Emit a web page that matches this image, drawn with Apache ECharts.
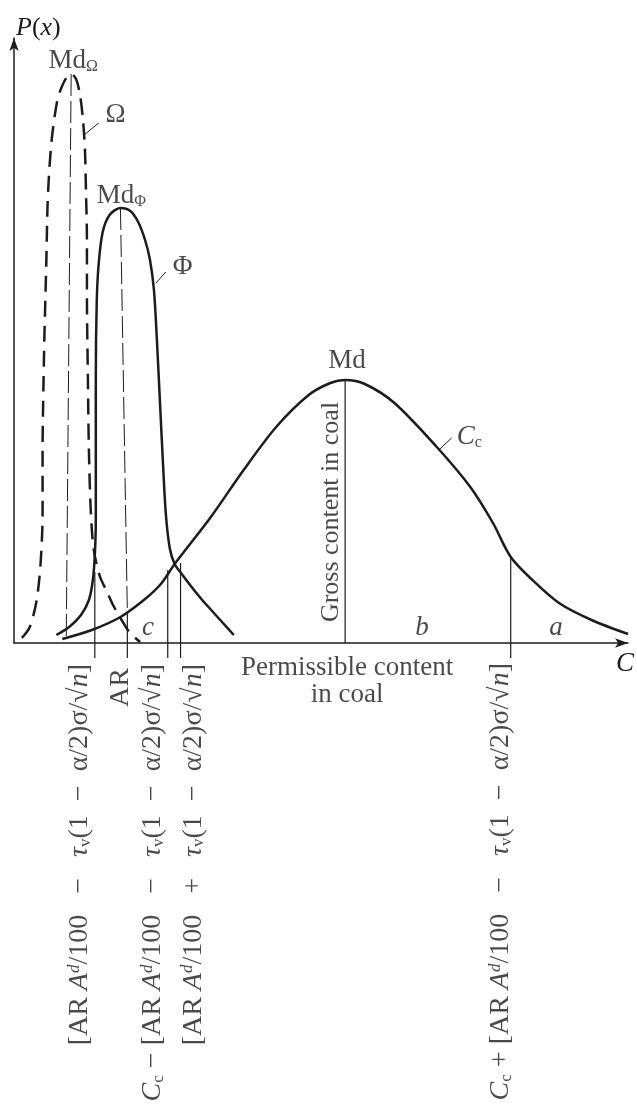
<!DOCTYPE html>
<html>
<head>
<meta charset="utf-8">
<script src="https://cdn.jsdelivr.net/npm/echarts@6/dist/echarts.min.js"></script>
<style>
  html, body { margin: 0; padding: 0; background: #fff; }
  #chart { width: 637px; height: 1111px; }
</style>
</head>
<body>
<div id="chart"></div>
<script>
// curves (x, P(x)) in plot units
const omegaCurve = [[8,5],[16,16],[23,43],[27,80],[29,130],[29,193],[30,263],[31,313],[32,350],[33,390],[34,436],[36,476],[39,510],[44,543],[48,555],[53,565],[58,569],[63,564],[67,548],[70,523],[72,493],[73,453],[74,403],[74,350],[75,263],[76,193],[78,130],[81,93],[87,67],[94,52],[101,37],[108,25],[117,11],[128,1]];
const phiCurve = [[43,8],[56,16],[68,28],[76,43],[80,63],[82,88],[83,123],[83,193],[83,263],[84,343],[86,380],[90,411],[97,428],[108,435],[118,432],[126,421],[133,403],[138,383],[142,353],[145,303],[148,243],[151,183],[154,130],[158,95],[163,79],[171,68],[181,55],[191,43],[201,32],[212,20],[223,8]];
const ccCurve = [[49,4],[79,13],[108,26],[133,44],[149,59],[163,79],[199,125],[233,173],[266,216],[299,248],[321,260],[336,263],[356,259],[386,240],[429,196],[463,156],[486,120],[504,86],[526,63],[553,40],[586,23],[623,9]];

// median lines (dashed)
const mdOmegaLine = [[58,569],[53,3]];
const mdPhiLine = [[108,435],[115,31]];
// limit lines (solid), running below the axis to their labels
const limitLines = [
  [[82,71],[82,-15]],
  [[115,31],[115,-15]],
  [[156,73],[156,-15]],
  [[169,80],[169,-15]],
  [[336,263],[336,0]],
  [[504,86],[504,-15]]
];
const leaderLines = [
  [[71,508],[86,520]],
  [[144,360],[154,371]],
  [[431,193],[444,205]]
];

const fLow = '[AR {i|A}{sup|d}/100   −   {i|τ}{sub|v}(1  −  α/2)σ/√{i|n}]';
const fHigh = '[AR {i|A}{sup|d}/100   +   {i|τ}{sub|v}(1  −  α/2)σ/√{i|n}]';
const curveLabels = [
  { value: [60,582], text: 'Md{sub|Ω}' },
  { value: [103,528], text: 'Ω' },
  { value: [109,447], text: 'Md{sub|Φ}' },
  { value: [171,376], text: 'Φ' },
  { value: [338,282], text: 'Md' },
  { value: [462,206], text: '{i|C}{sub|c}' },
  { value: [136,15], text: '{i|c}' },
  { value: [414,15], text: '{i|b}' },
  { value: [550,15], text: '{i|a}' },
  { value: [338,-38], text: 'Permissible content\nin coal' }
];
const grossLabel = { value: [322,131], text: 'Gross content in coal' };
const limitLabels = [
  { value: [67,-21], text: fLow },
  { value: [108,-25], text: 'AR' },
  { value: [141,-21], text: '{i|C}{sub|c} − ' + fLow },
  { value: [182,-21], text: fHigh },
  { value: [494,-20], text: '{i|C}{sub|c} + ' + fLow }
];

const ink = '#1c1c1c';
const serif = 'Liberation Serif';
function makeRich(size) {
  const small = Math.round(size * 0.6);
  return {
    i: { fontFamily: serif, fontSize: size, fontStyle: 'italic', color: ink },
    sup: { fontFamily: serif, fontSize: small, fontStyle: 'italic', verticalAlign: 'top', color: ink },
    sub: { fontFamily: serif, fontSize: small, verticalAlign: 'bottom', color: ink }
  };
}

function lineSeries(data, width, type) {
  return {
    type: 'line', data: data, symbol: 'none', clip: false, silent: true,
    smooth: data.length > 2 ? 0.3 : false,
    lineStyle: { color: ink, width: width, type: type || 'solid' }
  };
}

function textSeries(items, size, rotate, align) {
  return {
    type: 'scatter', symbolSize: 0, clip: false, silent: true,
    data: items.map(d => ({ value: d.value, label: { formatter: d.text } })),
    label: {
      show: true, position: 'inside', rotate: rotate, align: align, verticalAlign: 'middle',
      fontFamily: serif, fontSize: size, lineHeight: size, color: ink, rich: makeRich(size)
    }
  };
}

const chart = echarts.init(document.getElementById('chart'));
const series = [
  lineSeries(omegaCurve, 2.5, [16, 9]),
  lineSeries(phiCurve, 2.5),
  lineSeries(ccCurve, 2.5),
  lineSeries(mdOmegaLine, 1, [22, 5]),
  lineSeries(mdPhiLine, 1, [22, 5])
];
limitLines.forEach(seg => series.push(lineSeries(seg, 1.2)));
leaderLines.forEach(seg => series.push(lineSeries(seg, 1)));
series.push(textSeries(curveLabels, 27, 0, 'center'));
series.push(textSeries([grossLabel], 26, 90, 'center'));
series.push(textSeries(limitLabels, 28, 90, 'right'));

chart.setOption({
  animation: false,
  backgroundColor: '#fff',
  grid: { left: 14, right: 0, top: 38, bottom: 468 },
  xAxis: {
    type: 'value', min: 0, max: 623,
    name: '{i|C}', nameLocation: 'end', nameGap: -12,
    nameTextStyle: { align: 'left', verticalAlign: 'top', padding: [7, 0, 0, 0], rich: makeRich(27) },
    axisLine: { lineStyle: { color: ink, width: 1.5 }, symbol: ['none', 'arrow'], symbolSize: [7, 13] },
    axisTick: { show: false }, axisLabel: { show: false }, splitLine: { show: false }
  },
  yAxis: {
    type: 'value', min: 0, max: 605,
    name: '{i|P}({i|x})', nameLocation: 'end', nameGap: -3,
    nameTextStyle: { align: 'left', verticalAlign: 'bottom', fontFamily: serif, fontSize: 26, color: ink, padding: [0, 0, 0, 2], rich: makeRich(26) },
    axisLine: { lineStyle: { color: ink, width: 1.5 }, symbol: ['none', 'arrow'], symbolSize: [7, 13] },
    axisTick: { show: false }, axisLabel: { show: false }, splitLine: { show: false }
  },
  series: series
});
</script>
</body>
</html>
